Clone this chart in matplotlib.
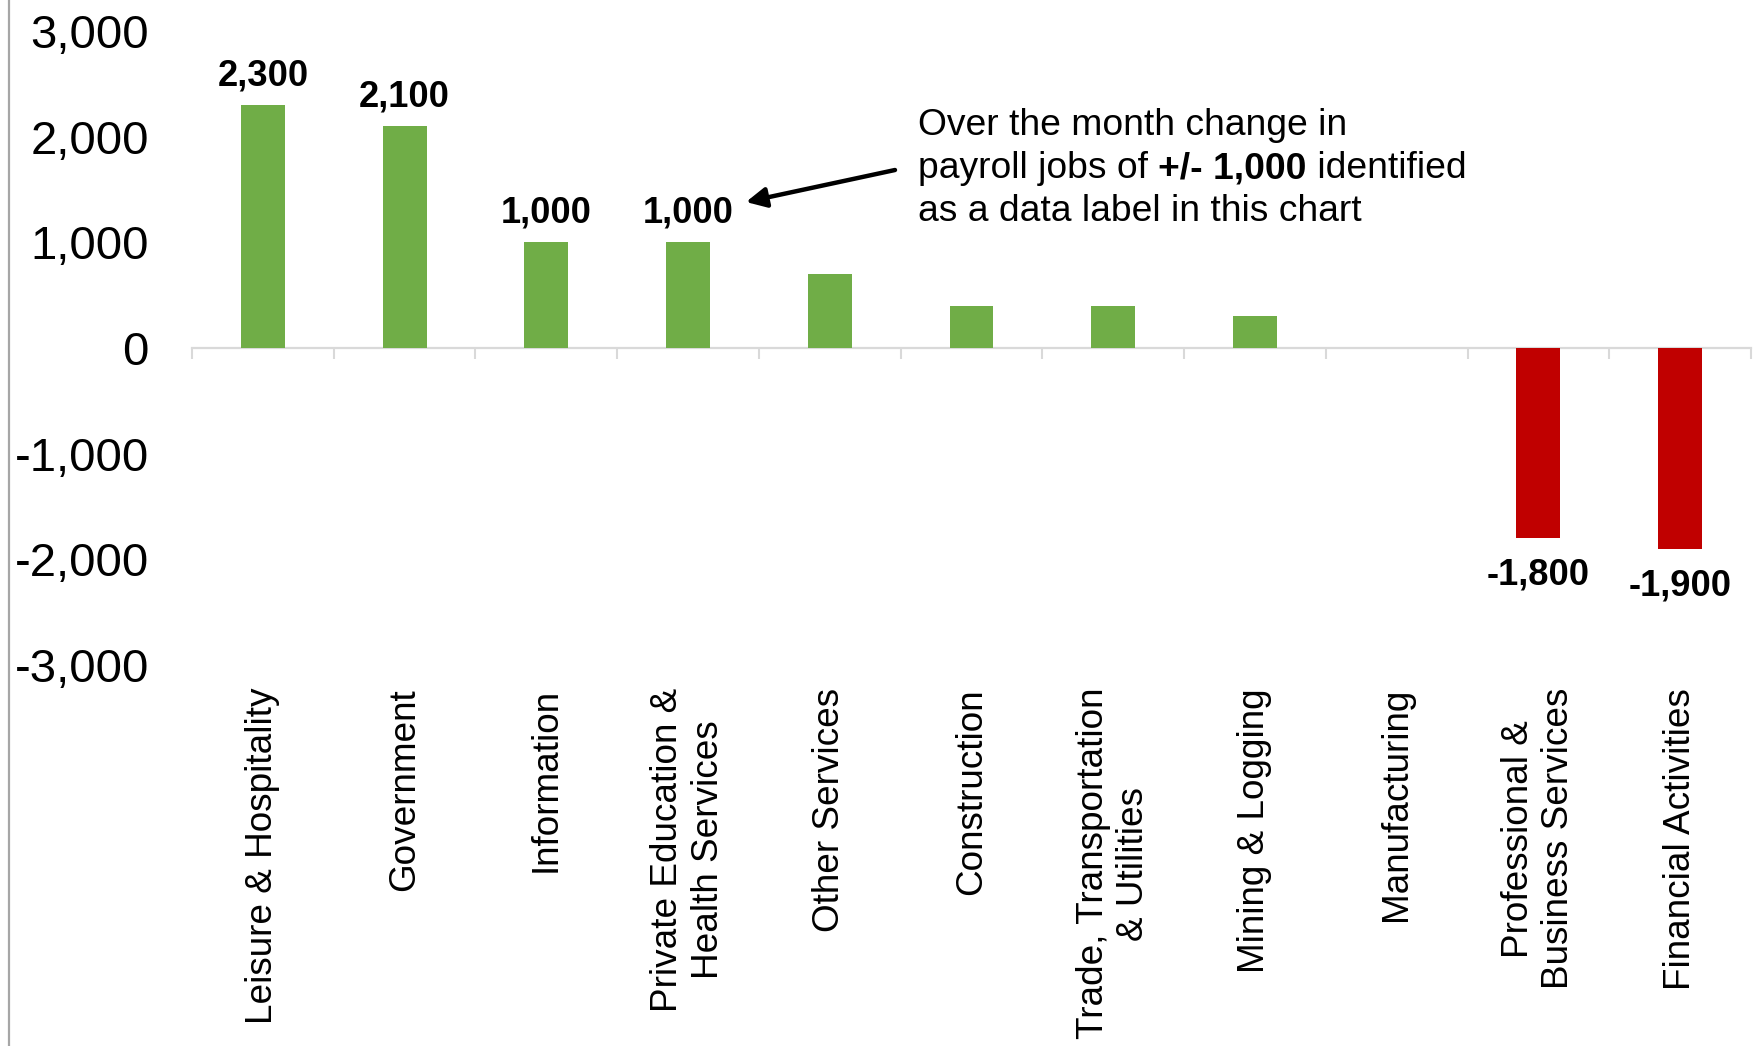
import numpy as np
import matplotlib
matplotlib.use("Agg")
import matplotlib.pyplot as plt
from matplotlib.lines import Line2D
from matplotlib.ticker import FuncFormatter

# ---- data ----
categories = [
    "Leisure & Hospitality",
    "Government",
    "Information",
    "Private Education &\nHealth Services",
    "Other Services",
    "Construction",
    "Trade, Transportation\n& Utilities",
    "Mining & Logging",
    "Manufacturing",
    "Professional &\nBusiness Services",
    "Financial Activities",
]
values = [2300, 2100, 1000, 1000, 700, 400, 400, 300, 0, -1800, -1900]
yticks = [-3000, -2000, -1000, 0, 1000, 2000, 3000]
label_threshold = 1000

POS = "#70AD47"
NEG = "#C00000"
GRID = "#D9D9D9"
FONT = "Liberation Sans"

plt.rcParams["font.family"] = [FONT, "DejaVu Sans"]

W, H = 1754, 1046
fig = plt.figure(figsize=(W / 100, H / 100), dpi=100)
ax = fig.add_axes([192 / W, 1 - 665 / H, (1751 - 192) / W, (665 - 31) / H])

x = np.arange(len(categories))
colors = [POS if v >= 0 else NEG for v in values]
ax.bar(x, values, width=0.31, color=colors, zorder=3)

ax.set_xlim(-0.5, len(categories) - 0.5)
ax.set_ylim(yticks[0], yticks[-1])
ax.set_yticks(yticks)
ax.yaxis.set_major_formatter(FuncFormatter(lambda v, p: f"{v:,.0f}"))
ax.tick_params(axis="y", length=0, pad=31, labelsize=34)

for s in ax.spines.values():
    s.set_visible(False)

# category labels below the plot
ax.set_xticks(x)
ax.set_xticklabels(categories, rotation=90, rotation_mode="anchor",
                   ha="right", va="center", multialignment="center", fontsize=26.6)
ax.tick_params(axis="x", length=0, pad=16.5)

# zero axis line with boundary tick marks
sec = ax.secondary_xaxis(0, transform=ax.transData)
sec.set_xticks(np.arange(len(categories) + 1) - 0.5)
sec.tick_params(axis="x", direction="out", length=8, width=1.5, color=GRID,
                labelbottom=False)
sec.spines["bottom"].set_color(GRID)
sec.spines["bottom"].set_linewidth(1.6)
for k in ["top", "left", "right"]:
    if k in sec.spines:
        sec.spines[k].set_visible(False)

# data labels
for xi, v in zip(x, values):
    if abs(v) >= label_threshold:
        if v > 0:
            ax.annotate(f"{v:,.0f}", xy=(xi, v), xytext=(0, 14), textcoords="offset points",
                        ha="center", va="baseline", fontsize=26.2, fontweight="bold")
        else:
            ax.annotate(f"{v:,.0f}", xy=(xi, v), xytext=(0, -14), textcoords="offset points",
                        ha="center", va="top", fontsize=26.2, fontweight="bold")

# left border line of chart area
fig.add_artist(Line2D([9 / W, 9 / W], [0, 1], transform=fig.transFigure,
                      color="#A6A6A6", lw=1.6))

# callout text
fs = 26.8
x0 = 918 / W
t1 = fig.text(x0, 1 - 135 / H, "Over the month change in", fontsize=fs, va="baseline", ha="left")
ta = fig.text(x0, 1 - 178 / H, "payroll jobs of ", fontsize=fs, va="baseline", ha="left")
tb = fig.text(x0, 1 - 178 / H, "+/- 1,000", fontsize=fs, va="baseline", ha="left", fontweight="bold")
tc = fig.text(x0, 1 - 178 / H, " identified", fontsize=fs, va="baseline", ha="left")
t3 = fig.text(x0, 1 - 221 / H, "as a data label in this chart", fontsize=fs, va="baseline", ha="left")

fig.canvas.draw()
r = fig.canvas.get_renderer()
bb = ta.get_window_extent(r)
tb.set_x(bb.x1 / W)
fig.canvas.draw()
bb = tb.get_window_extent(r)
tc.set_x(bb.x1 / W)

# arrow
fig.add_artist(matplotlib.patches.FancyArrowPatch(
    posA=(895 / W, 1 - 170 / H), posB=(746 / W, 1 - 202 / H),
    transform=fig.transFigure, arrowstyle="-|>", mutation_scale=30,
    lw=3.2, color="black", shrinkA=0, shrinkB=0))

fig.savefig("out.png", dpi=100, facecolor="white")
